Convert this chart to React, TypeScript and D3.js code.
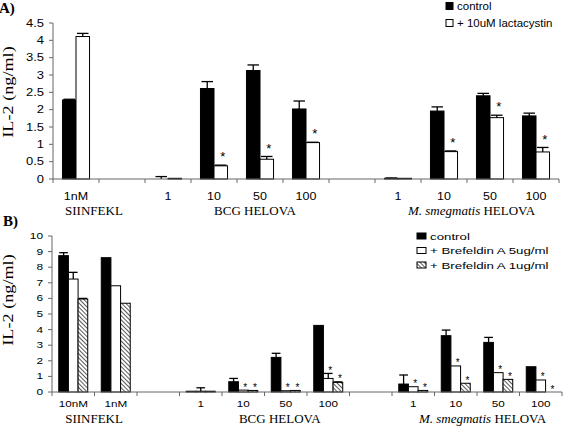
import React from "react";
import * as d3 from "d3";

// ---------- Panel A data ----------
const topCategories = ["1nM", "", "1", "10", "50", "100", "", "1", "10", "50", "100"];
const topControl = [2.28, null, 0.0, 2.61, 3.13, 2.02, null, 0.02, 1.96, 2.4, 1.82];
const topControlErr = [2.3, null, 0.07, 2.81, 3.29, 2.25, null, 0.03, 2.08, 2.47, 1.9];
const topLacta = [4.11, null, 0.02, 0.38, 0.57, 1.05, null, 0.02, 0.79, 1.77, 0.78];
const topLactaErr = [4.2, null, 0.02, 0.4, 0.65, 1.06, null, 0.02, 0.81, 1.84, 0.91];
const topStars = [[1, 3], [1, 4], [1, 5], [1, 8], [1, 9], [1, 10]];
const topTicks = [0, 0.5, 1, 1.5, 2, 2.5, 3, 3.5, 4, 4.5];
const topLegend = ["control", "+ 10uM lactacystin"];
const topGroups = [
  { label: "SIINFEKL", at: 0.89 },
  { label: "BCG HELOVA", at: 4.39 },
  { label: "M. smegmatis HELOVA", at: 9.1 },
];

// ---------- Panel B data ----------
const botCategories = ["10nM", "1nM", "", "1", "10", "50", "100", "", "1", "10", "50", "100"];
const botControl = [8.74, 8.61, null, 0.05, 0.66, 2.22, 4.27, null, 0.51, 3.61, 3.18, 1.62];
const botControlErr = [8.93, 8.61, null, 0.05, 0.87, 2.48, 4.27, null, 1.09, 3.97, 3.5, 1.62];
const botBfa5 = [7.24, 6.81, null, 0.05, 0.12, 0.08, 0.87, null, 0.34, 1.67, 1.24, 0.77];
const botBfa5Err = [7.67, 6.81, null, 0.27, 0.12, 0.08, 1.19, null, 0.34, 1.67, 1.24, 0.77];
const botBfa1 = [5.96, 5.69, null, 0.05, 0.1, 0.1, 0.62, null, 0.1, 0.56, 0.81, 0];
const botBfa1Err = [6.0, 5.69, null, 0.05, 0.1, 0.1, 0.65, null, 0.1, 0.56, 0.81, 0];
const botStars = [
  [1, 4], [2, 4], [1, 5], [2, 5], [1, 6], [2, 6],
  [1, 8], [2, 8], [1, 9], [2, 9], [1, 10], [2, 10], [1, 11], [2, 11],
];
const botTicks = [0, 1, 2, 3, 4, 5, 6, 7, 8, 9, 10];
const botLegend = ["control", "+ Brefeldin A  5ug/ml", "+ Brefeldin A  1ug/ml"];
const botGroups = [
  { label: "SIINFEKL", at: 0.99 },
  { label: "BCG HELOVA", at: 5.36 },
  { label: "M. smegmatis HELOVA", at: 10.13 },
];

const SANS = "'Liberation Sans', Arial, sans-serif";
const SERIF = "'Liberation Serif', 'Times New Roman', serif";
const AXIS = "#666";

function STxt({ x, y, sx = 1, size, anchor = "start", family = SANS, weight = "normal", children }: any) {
  return (
    <text
      transform={`translate(${x},${y}) scale(${sx},1)`}
      fontSize={size}
      fontFamily={family}
      fontWeight={weight}
      textAnchor={anchor}
      fill="#000"
    >
      {children}
    </text>
  );
}

function GroupLabel({ label, x, y }: any) {
  if (label.startsWith("M. smegmatis")) {
    return (
      <text x={x} y={y} fontSize={13} fontFamily={SERIF} textAnchor="middle">
        <tspan fontStyle="italic">M. smegmatis</tspan> HELOVA
      </text>
    );
  }
  return (
    <text x={x} y={y} fontSize={13} fontFamily={SERIF} textAnchor="middle">
      {label}
    </text>
  );
}

function Panel(props: any) {
  const {
    categories, series, stars, ticks, xRange, yRange, yMax, fills,
    tickFont, tickSx, catFont, catSx, catY, groups, groupY, starSize, starGap, capFrac,
  } = props;
  const x = d3.scaleBand<number>().domain(d3.range(categories.length)).range(xRange).padding(0);
  const y = d3.scaleLinear().domain([0, yMax]).range(yRange);
  const n = series.length;
  const gap = 1.4;
  const bw = x.bandwidth() / (n + gap);
  const barX = (si: number, ci: number) => (x(ci) as number) + (gap / 2) * bw + si * bw;
  const catPos = (c: number) => xRange[0] + c * x.bandwidth();
  return (
    <g>
      {series.map((s: any, si: number) =>
        s.values.map((v: number | null, ci: number) => {
          if (v === null) return null;
          const bx = barX(si, ci);
          const top = y(v);
          return (
            <rect
              key={`b${si}-${ci}`}
              x={bx}
              y={top}
              width={bw}
              height={Math.max(0, y(0) - top)}
              fill={fills[si]}
              stroke="#000"
              strokeWidth={1}
            />
          );
        })
      )}
      {series.map((s: any, si: number) =>
        s.err.map((e: number | null, ci: number) => {
          const v = s.values[ci];
          if (e === null || v === null || e - v < 0.005) return null;
          const cx = barX(si, ci) + bw / 2;
          const cw = bw * capFrac;
          return (
            <g key={`e${si}-${ci}`} stroke="#000" strokeWidth={1.3}>
              <line x1={cx} x2={cx} y1={y(v)} y2={y(e)} />
              <line x1={cx - cw / 2} x2={cx + cw / 2} y1={y(e)} y2={y(e)} />
            </g>
          );
        })
      )}
      {stars.map(([si, ci]: number[], i: number) => {
        const s = series[si];
        const top = y(Math.max(s.err[ci] ?? 0, s.values[ci] ?? 0));
        const cx = barX(si, ci) + bw / 2 + 2;
        return (
          <text
            key={`s${i}`}
            x={cx}
            y={top - starGap + starSize * 0.55}
            fontSize={starSize}
            fontFamily={SANS}
            textAnchor="middle"
            fill="#000"
          >
            *
          </text>
        );
      })}
      <line x1={xRange[0]} x2={xRange[0]} y1={y(0)} y2={y(yMax)} stroke={AXIS} />
      {ticks.map((t: number) => (
        <g key={`yt${t}`}>
          <line x1={xRange[0] - 4} x2={xRange[0]} y1={y(t)} y2={y(t)} stroke={AXIS} />
          <STxt x={xRange[0] - 9} y={y(t) + tickFont * 0.36} sx={tickSx} size={tickFont} anchor="end">
            {String(t)}
          </STxt>
        </g>
      ))}
      <line x1={xRange[0]} x2={xRange[1]} y1={y(0)} y2={y(0)} stroke={AXIS} />
      {d3.range(categories.length + 1).map((c) => (
        <line key={`xt${c}`} x1={catPos(c)} x2={catPos(c)} y1={y(0)} y2={y(0) + 4} stroke={AXIS} />
      ))}
      {categories.map((c: string, ci: number) =>
        c ? (
          <STxt key={`cl${ci}`} x={(x(ci) as number) + x.bandwidth() / 2} y={catY} sx={catSx} size={catFont} anchor="middle">
            {c}
          </STxt>
        ) : null
      )}
      {groups.map((g: any) => (
        <GroupLabel key={g.label} label={g.label} x={catPos(g.at)} y={groupY} />
      ))}
    </g>
  );
}

export default function App() {
  const topSeries = [
    { values: topControl, err: topControlErr },
    { values: topLacta, err: topLactaErr },
  ];
  const botSeries = [
    { values: botControl, err: botControlErr },
    { values: botBfa5, err: botBfa5Err },
    { values: botBfa1, err: botBfa1Err },
  ];
  const fills = ["#000", "#fff", "url(#hatch)"];
  return (
    <svg width={576} height={431} style={{ position: "absolute", left: 0, top: 0, background: "#fff" }}>
      <defs>
        <pattern id="hatch" width={3} height={3} patternUnits="userSpaceOnUse" patternTransform="rotate(-45)">
          <rect width={3} height={3} fill="#fff" />
          <line x1={0} y1={0} x2={0} y2={3} stroke="#000" strokeWidth={1.3} />
        </pattern>
      </defs>
      <rect width={576} height={431} fill="#fff" />

      {/* Panel A */}
      <STxt x={-1} y={13} size={15} family={SERIF} weight="bold">A)</STxt>
      <text transform="translate(13,92) rotate(-90) scale(1.3,1)" fontSize={14} fontFamily={SERIF} textAnchor="middle">
        IL-2 (ng/ml)
      </text>
      <Panel
        categories={topCategories}
        series={topSeries}
        stars={topStars}
        ticks={topTicks}
        xRange={[53, 559]}
        yRange={[179, 23]}
        yMax={4.5}
        fills={fills}
        tickFont={10}
        tickSx={1.3}
        catFont={10}
        catSx={1.25}
        catY={200}
        groups={topGroups}
        groupY={215}
        starSize={13}
        starGap={11}
        capFrac={0.85}
      />
      {topLegend.map((l, i) => (
        <g key={l}>
          <rect x={446} y={2.5 + i * 17} width={7} height={7} fill={fills[i]} stroke="#000" />
          <STxt x={457} y={9.5 + i * 17} size={10} sx={1.15}>{l}</STxt>
        </g>
      ))}

      {/* Panel B */}
      <STxt x={3} y={226} size={15} family={SERIF} weight="bold">B)</STxt>
      <text transform="translate(13,300) rotate(-90) scale(1.3,1)" fontSize={14} fontFamily={SERIF} textAnchor="middle">
        IL-2 (ng/ml)
      </text>
      <Panel
        categories={botCategories}
        series={botSeries}
        stars={botStars}
        ticks={botTicks}
        xRange={[52, 562]}
        yRange={[392, 236]}
        yMax={10}
        fills={fills}
        tickFont={8.5}
        tickSx={1.4}
        catFont={9}
        catSx={1.3}
        catY={407}
        groups={botGroups}
        groupY={423}
        starSize={10}
        starGap={5}
        capFrac={0.9}
      />
      {botLegend.map((l, i) => (
        <g key={l}>
          <rect x={417} y={233 + i * 14.5} width={9} height={6} fill={fills[i]} stroke="#000" />
          <STxt x={430} y={239.5 + i * 14.5} size={9.5} sx={1.4}>{l}</STxt>
        </g>
      ))}
    </svg>
  );
}
